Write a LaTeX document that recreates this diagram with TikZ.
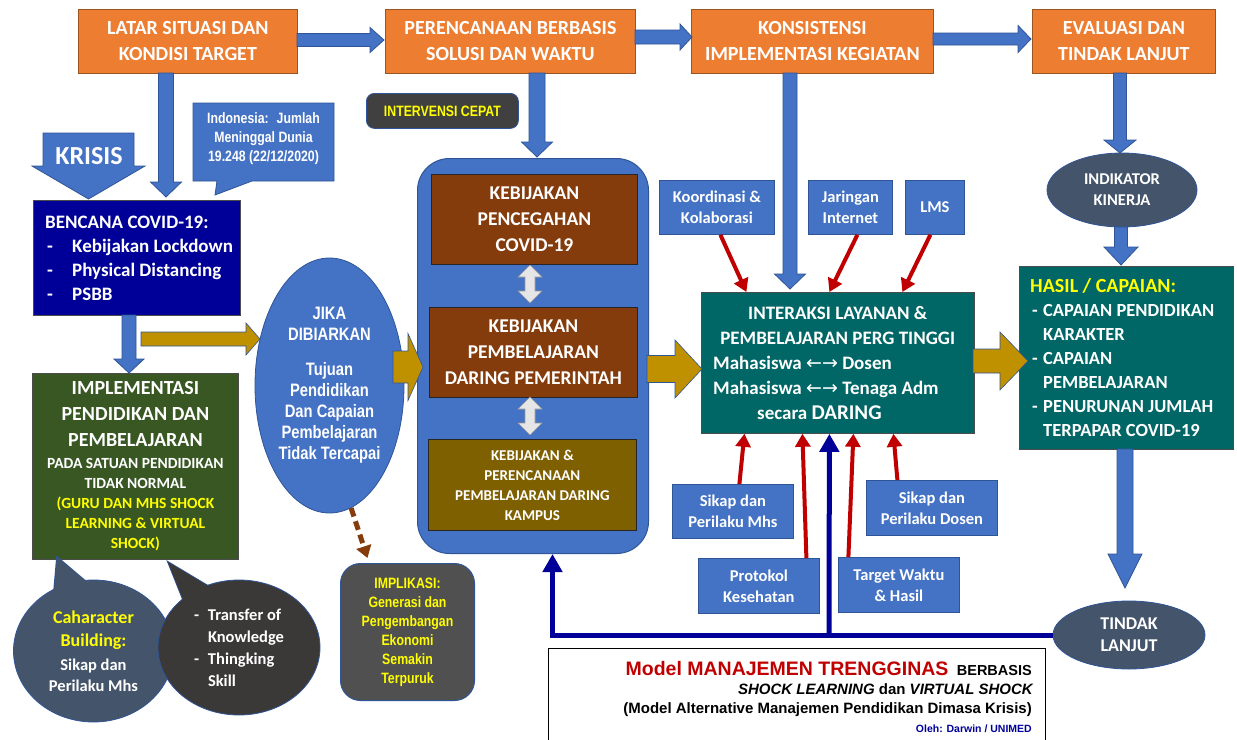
\documentclass[tikz,border=0pt]{standalone}
\usepackage{fontspec}
\setmainfont{Carlito}
\newfontfamily\narrow{Liberation Sans}[FakeStretch=0.82]
\newfontfamily\arial{Liberation Sans}
\newfontfamily\dv{DejaVu Sans}
\usetikzlibrary{arrows.meta,shapes.geometric}
\definecolor{cOrange}{HTML}{ED7D31}
\definecolor{cOrangeB}{HTML}{9A5520}
\definecolor{cBlue}{HTML}{4472C4}
\definecolor{cBlueB}{HTML}{2F5597}
\definecolor{cNavy}{HTML}{000099}
\definecolor{cGreen}{HTML}{385723}
\definecolor{cTeal}{HTML}{006666}
\definecolor{cBrown}{HTML}{843C0C}
\definecolor{cOlive}{HTML}{7F6000}
\definecolor{cGold}{HTML}{BF9000}
\definecolor{cGray}{HTML}{505050}
\definecolor{cGrayB}{HTML}{404040}
\definecolor{cSlate}{HTML}{44546A}
\definecolor{cDark}{HTML}{3B3838}
\definecolor{cRed}{HTML}{C00000}
\definecolor{cYellow}{HTML}{FFFF00}
\definecolor{cLight}{HTML}{E7E6E6}
% vertical block arrow: cx, ytop, ytip, shaft half width, head half width, head length, style
\newcommand{\fatdown}[7]{\filldraw[#7] (#1-#4,#2) -- (#1+#4,#2) -- (#1+#4,#3-#6) -- (#1+#5,#3-#6) -- (#1,#3) -- (#1-#5,#3-#6) -- (#1-#4,#3-#6) -- cycle;}
% horizontal block arrow: cy, xleft, xtip, shaft half width, head half width, head length, style
\newcommand{\fatright}[7]{\filldraw[#7] (#2,#1-#4) -- (#3-#6,#1-#4) -- (#3-#6,#1-#5) -- (#3,#1) -- (#3-#6,#1+#5) -- (#3-#6,#1+#4) -- (#2,#1+#4) -- cycle;}
% light double arrow: cx, ytop, ybottom
\newcommand{\updown}[3]{\filldraw[dbl] (#1,#2) -- (#1+12,#2+12) -- (#1+5,#2+12) -- (#1+5,#3-12) -- (#1+12,#3-12) -- (#1,#3) -- (#1-12,#3-12) -- (#1-5,#3-12) -- (#1-5,#2+12) -- (#1-12,#2+12) -- cycle;}
\tikzset{
 txtbase/.style={inner sep=0pt, align=center, text=white},
 obox/.style={txtbase, anchor=north west, fill=cOrange, draw=cOrangeB, line width=0.8pt, font=\fontsize{20}{26}\selectfont\bfseries},
 sbox/.style={txtbase, anchor=north west, fill=cBlue, draw=cBlueB, line width=0.8pt, font=\fontsize{16.5}{21}\selectfont\bfseries},
 kbox/.style={txtbase, anchor=north west, draw=black!70, line width=0.8pt},
 blk/.style={fill=cBlue, draw=cBlueB, line width=0.8pt},
 gld/.style={fill=cGold, draw=cBlueB, line width=0.6pt},
 dbl/.style={fill=cLight, draw=gray!80, line width=0.6pt},
 redarr/.style={draw=cRed, line width=4pt, -{Triangle[width=15pt,length=13pt]}},
 navyarr/.style={draw=cNavy, line width=5pt, -{Triangle[width=19pt,length=18pt]}},
 dasharr/.style={draw=cBrown, line width=5pt, dash pattern=on 9pt off 5pt, -{Triangle[width=15pt,length=12pt]}},
 ell/.style={txtbase, ellipse, draw=cBlueB, line width=0.8pt},
 nar/.style={font=\narrow\bfseries\fontsize{15}{19}\selectfont},
 captxt/.style={anchor=base east, inner sep=0pt, font=\arial\bfseries\fontsize{15}{17}\selectfont},
}
\begin{document}
\begin{tikzpicture}[x=1pt,y=-1pt]
\useasboundingbox (0,0) rectangle (1237,739);
\fill[white] (0,0) rectangle (1237,739);

% big rounded container
\node[txtbase, anchor=north west, fill=cBlue, draw=cBlueB, line width=1pt, rounded corners=32pt, minimum width=231pt, minimum height=395pt] (bigrect) at (417,158) {};

% top row
\node[obox, minimum width=219pt, minimum height=64pt] (latar) at (78,9) {LATAR SITUASI DAN\\KONDISI TARGET};
\node[obox, minimum width=250pt, minimum height=64pt] (peren) at (385,9) {PERENCANAAN BERBASIS\\SOLUSI DAN WAKTU};
\node[obox, minimum width=242pt, minimum height=64pt] (konsis) at (691,9) {KONSISTENSI\\IMPLEMENTASI KEGIATAN};
\node[obox, minimum width=183pt, minimum height=64pt] (evalu) at (1032,9) {EVALUASI DAN\\TINDAK LANJUT};

\fatright{40}{297}{384}{6.5}{12.5}{14}{blk}
\fatright{37}{635}{692}{7}{13}{12}{blk}
\fatright{39}{933}{1031}{6}{13.5}{13}{blk}

\fatdown{166}{73}{197}{7.5}{15.5}{15}{blk}
\fatdown{537}{73}{157}{8}{15.5}{15}{blk}
\fatdown{790}{73}{289}{7}{15.5}{15}{blk}
\fatdown{1120}{73}{153}{6.5}{16}{13}{blk}

% KRISIS
\filldraw[blk] (43,133) -- (134,133) -- (134,166) -- (145,166) -- (88.5,199) -- (32,166) -- (43,166) -- cycle;
\node[txtbase, font=\fontsize{26}{30}\selectfont\bfseries] (krisis) at (89,156) {KRISIS};

% Indonesia callout
\filldraw[blk] (193,103) -- (334,103) -- (334,181) -- (252,181) -- (215,195) -- (217,181) -- (193,181) -- cycle;
\node[txtbase, nar] (indo) at (263.5,139) {Indonesia:~ Jumlah\\Meninggal Dunia\\19.248 (22/12/2020)};

% BENCANA
\node[kbox, fill=cNavy, minimum width=207pt, minimum height=115pt] (bencana) at (33,200) {};
\node[txtbase, anchor=west, align=left, font=\fontsize{19}{24}\selectfont\bfseries] (bencanaT) at ([xshift=12pt]bencana.west) {BENCANA COVID-19:\\\hspace*{2pt}\makebox[25pt][l]{-}Kebijakan Lockdown\\\hspace*{2pt}\makebox[25pt][l]{-}Physical Distancing\\\hspace*{2pt}\makebox[25pt][l]{-}PSBB};

\fatdown{129}{315}{373}{7}{15}{14}{blk}

% IMPLEMENTASI
\node[kbox, fill=cGreen, minimum width=206pt, minimum height=186pt, font=\fontsize{15.5}{20}\selectfont\bfseries] (implem) at (32,373) {{\fontsize{20}{26}\selectfont IMPLEMENTASI}\\[6pt]{\fontsize{20}{26}\selectfont PENDIDIKAN DAN}\\[6pt]{\fontsize{20}{26}\selectfont PEMBELAJARAN}\\[2pt]PADA SATUAN PENDIDIKAN\\TIDAK NORMAL\\\textcolor{cYellow}{(GURU DAN MHS SHOCK}\\\textcolor{cYellow}{LEARNING \& VIRTUAL}\\\textcolor{cYellow}{SHOCK)}};

% JIKA ellipse
\node[ell, fill=cBlue, minimum width=149pt, minimum height=255pt, font=\narrow\bfseries\fontsize{18}{21}\selectfont] (jika) at (329.5,385.5) {JIKA\\DIBIARKAN\\[14pt]Tujuan\\Pendidikan\\Dan Capaian\\Pembelajaran\\Tidak Tercapai};

\fatright{339}{141}{260}{7}{16}{14}{gld}
\fatright{367}{393}{423}{16}{33.5}{15}{gld}

% INTERVENSI
\node[txtbase, anchor=north west, fill=cGrayB, draw=cBlueB, line width=0.8pt, rounded corners=8pt, minimum width=152pt, minimum height=35pt, nar, text=cYellow] (interv) at (366,93) {INTERVENSI CEPAT};

% policy boxes
\node[kbox, fill=cBrown, draw=black!85, minimum width=206pt, minimum height=90pt, font=\fontsize{19.5}{26}\selectfont\bfseries] (keb1) at (431,174) {KEBIJAKAN\\PENCEGAHAN\\COVID-19};
\node[kbox, fill=cBrown, draw=black!85, minimum width=208pt, minimum height=90pt, font=\fontsize{19.5}{26}\selectfont\bfseries] (keb2) at (429,307) {KEBIJAKAN\\PEMBELAJARAN\\DARING PEMERINTAH};
\node[kbox, fill=cOlive, draw=black!85, minimum width=208pt, minimum height=91pt, font=\fontsize{15}{20}\selectfont\bfseries] (keb3) at (428,439) {KEBIJAKAN \&\\PERENCANAAN\\PEMBELAJARAN DARING\\KAMPUS};
\updown{530}{265}{303}
\updown{530}{397}{435}

% IMPLIKASI
\node[txtbase, anchor=north west, fill=cGray, draw=cBlueB, line width=1pt, rounded corners=20pt, minimum width=134pt, minimum height=137pt, nar, text=cYellow] (implik) at (340,563) {IMPLIKASI:\\Generasi dan\\Pengembangan\\Ekonomi\\Semakin\\Terpuruk};
\draw[dasharr] (jika.-80) -- ([xshift=-40pt,yshift=5pt]implik.north);

% small factor boxes
\node[sbox, minimum width=115pt, minimum height=54pt] (kord) at (659,180) {Koordinasi \&\\Kolaborasi};
\node[sbox, minimum width=84pt, minimum height=54pt] (jar) at (808,180) {Jaringan\\Internet};
\node[sbox, minimum width=59pt, minimum height=54pt] (lms) at (905,180) {LMS};
\node[sbox, minimum width=121pt, minimum height=54pt] (smhs) at (672,484) {Sikap dan\\Perilaku Mhs};
\node[sbox, minimum width=131pt, minimum height=55pt] (sdos) at (866,480) {Sikap dan\\Perilaku Dosen};
\node[sbox, minimum width=121pt, minimum height=55pt] (prot) at (698,558) {Protokol\\Kesehatan};
\node[sbox, minimum width=121pt, minimum height=55pt] (targ) at (838,557) {Target Waktu\\\& Hasil};

% INTERAKSI
\node[kbox, fill=cTeal, minimum width=273pt, minimum height=141pt] (inter) at (701,292) {};
\node[txtbase, anchor=west, align=left, font=\fontsize{19}{25}\selectfont\bfseries] (interT) at ([xshift=12pt]inter.west) {\makebox[249pt][c]{INTERAKSI LAYANAN \&}\\\makebox[249pt][c]{PEMBELAJARAN PERG TINGGI}\\Mahasiswa {\dv\mdseries ←→} Dosen\\Mahasiswa {\dv\mdseries ←→} Tenaga Adm\\\hspace*{44pt}secara {\fontsize{21}{25}\selectfont DARING}};
\fatright{369}{647}{702}{13.5}{29}{27}{gld}

\draw[redarr] ([xshift=3.5pt]kord.south) -- ([xshift=-91.5pt]inter.north);
\draw[redarr] ([xshift=7pt]jar.south) -- ([xshift=-8.5pt]inter.north);
\draw[redarr] ([xshift=-4.5pt]lms.south) -- ([xshift=64.5pt]inter.north);
\draw[redarr] ([xshift=6.5pt]smhs.north) -- ([xshift=-93.5pt]inter.south);
\draw[redarr] ([xshift=47.5pt]prot.north) -- ([xshift=-35.5pt]inter.south);
\draw[redarr] ([xshift=-50.5pt]targ.north) -- ([xshift=15.5pt]inter.south);
\draw[redarr] ([xshift=-34.5pt]sdos.north) -- ([xshift=55.5pt]inter.south);

% right column
\node[ell, fill=cSlate, minimum width=150pt, minimum height=74pt, font=\fontsize{16.5}{21}\selectfont\bfseries] (indik) at (1122,190) {INDIKATOR\\KINERJA};
\fatdown{1121}{227}{265}{6.5}{17}{18}{blk}
\node[kbox, fill=cTeal, minimum width=214pt, minimum height=183pt] (hasil) at (1019,266) {};
\node[txtbase, anchor=west, align=left, font=\fontsize{18.5}{24}\selectfont\bfseries] (hasilT) at ([xshift=11pt]hasil.west) {\textcolor{cYellow}{\fontsize{20}{24}\selectfont HASIL / CAPAIAN:}\\\hspace*{2pt}\makebox[11pt][l]{-}CAPAIAN PENDIDIKAN\\\hspace*{13pt}KARAKTER\\\hspace*{2pt}\makebox[11pt][l]{-}CAPAIAN\\\hspace*{13pt}PEMBELAJARAN\\\hspace*{2pt}\makebox[11pt][l]{-}PENURUNAN JUMLAH\\\hspace*{13pt}TERPAPAR COVID-19};
\fatright{361}{973}{1028}{12}{29}{28}{gld}
\fatdown{1125}{449}{588}{8}{17}{34}{blk}
\node[ell, fill=cSlate, minimum width=152pt, minimum height=68pt, font=\fontsize{18}{22}\selectfont\bfseries] (tindak) at (1129,635) {TINDAK\\LANJUT};

% feedback line
\coordinate (j2) at (829,635);
\draw[navyarr] (tindak.west) -| ([xshift=19.5pt]bigrect.south);
\draw[navyarr] (j2) -- ([xshift=-8.5pt]inter.south);

% caption
\node[anchor=north west, draw=black, line width=0.8pt, fill=white, minimum width=497pt, minimum height=100pt, inner sep=0pt] (capbox) at (548,648) {};
\node[captxt, text=cRed, font=\arial\bfseries\fontsize{19.5}{22}\selectfont] (cap1) at (1032,675) {Model MANAJEMEN TRENGGINAS\hspace{3pt} \textcolor{black}{\fontsize{14.5}{16}\selectfont BERBASIS}};
\node[captxt] (cap2) at (1033,694) {\itshape SHOCK LEARNING \upshape dan \itshape VIRTUAL SHOCK};
\node[captxt] (cap3) at (1032,713) {(Model Alternative Manajemen Pendidikan Dimasa Krisis)};
\node[captxt, text=cNavy, font=\arial\bfseries\fontsize{10.5}{12}\selectfont] (cap4) at (1032,732) {Oleh: Darwin / UNIMED};

% bottom-left callouts
\filldraw[fill=cSlate, draw=cBlueB, line width=1.6pt] (57,557) -- (53.5,597) -- (90,585) -- cycle;
\node[ell, fill=cSlate, minimum width=160pt, minimum height=142pt, font=\fontsize{16.5}{21}\selectfont\bfseries] (charE) at (93.5,651) {\textcolor{cYellow}{\fontsize{18}{21}\selectfont Caharacter}\\[2pt]\textcolor{cYellow}{\fontsize{18}{21}\selectfont Building:}\\[3pt]Sikap dan\\Perilaku Mhs};
\fill[cSlate] (57,557) -- (53.5,597) -- (90,585) -- cycle;

\filldraw[fill=cDark, draw=cBlueB, line width=1.6pt] (168,562) -- (185,604.5) -- (214,589.5) -- cycle;
\node[ell, fill=cDark, minimum width=162pt, minimum height=135pt, align=left, font=\fontsize{16.5}{22}\selectfont\bfseries] (transE) at (239,647.5) {\makebox[14pt][l]{-}Transfer of\\\hspace*{14pt}Knowledge\\\makebox[14pt][l]{-}Thingking\\\hspace*{14pt}Skill};
\fill[cDark] (168,562) -- (185,604.5) -- (214,589.5) -- cycle;
\end{tikzpicture}
\end{document}
